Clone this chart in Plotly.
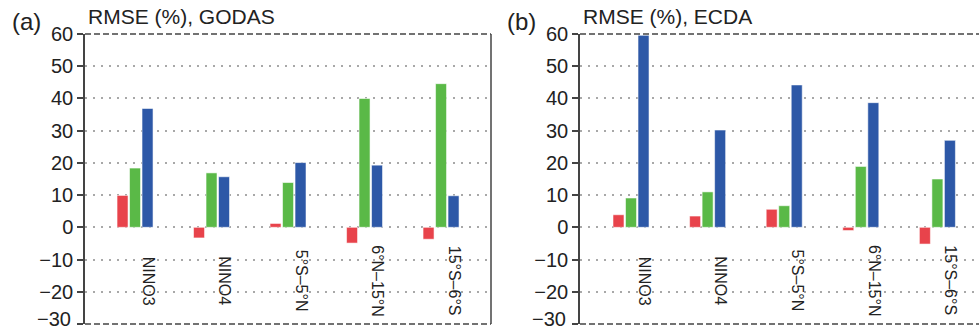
import plotly.graph_objects as go

# Regions and RMSE change (%) for each experiment, per reanalysis
regions = ["NINO3", "NINO4", "5°S–5°N", "6°N–15°N", "15°S–6°S"]

godas_red = [9.9, -3.3, 1.2, -4.9, -3.7]
godas_green = [18.4, 16.9, 13.9, 40.0, 44.6]
godas_blue = [36.9, 15.7, 20.1, 19.3, 9.8]

ecda_red = [3.9, 3.5, 5.6, -1.0, -5.2]
ecda_green = [9.1, 11.0, 6.7, 18.9, 15.0]
ecda_blue = [59.6, 30.2, 44.2, 38.7, 27.0]

y_ticks = [-30, -20, -10, 0, 10, 20, 30, 40, 50, 60]
y_min, y_max = -30, 60
panel_titles = ["RMSE (%), GODAS", "RMSE (%), ECDA"]
panel_tags = ["(a)", "(b)"]

RED, GREEN, BLUE = "#e8434b", "#5ab947", "#2d58a7"
AXIS = "#444444"
TXT = "#222222"
FONT = "Liberation Sans, Arial, Helvetica, sans-serif"


def tick_text(v):
    return ("\u2212" + str(-v)) if v < 0 else str(v)


W, H = 979, 331
xa_dom = [85 / W, 491 / W]
xb_dom = [580 / W, 1.0]

fig = go.Figure()

pos = list(range(len(regions)))
panels = [
    ("x", "y", godas_red, godas_green, godas_blue),
    ("x2", "y2", ecda_red, ecda_green, ecda_blue),
]
for xa, ya, r, g, b in panels:
    for vals, col in ((r, RED), (g, GREEN), (b, BLUE)):
        fig.add_trace(go.Bar(
            x=pos, y=vals, xaxis=xa, yaxis=ya,
            marker=dict(color=col, line=dict(color="rgba(255,255,255,0.55)", width=1)),
            showlegend=False,
        ))

# the lowest label sits on the figure's lower edge, so it is written separately
yaxis_common = dict(
    range=[y_min - 0.02, y_max + 0.02], tickvals=y_ticks,
    ticktext=["" if v == y_min else tick_text(v) for v in y_ticks],
    ticks="outside", ticklen=6, tickwidth=1.5, tickcolor=AXIS,
    showline=True, linecolor=AXIS, linewidth=1.5,
    showgrid=True, gridcolor="#a8a8a8", gridwidth=1.5, griddash="1.5px,6.5px",
    zeroline=False, tickfont=dict(size=20, color=TXT, family=FONT),
    fixedrange=True, automargin=False,
)
xaxis_common = dict(showticklabels=False, showgrid=False, zeroline=False,
                    ticks="", showline=False, fixedrange=True)

fig.update_layout(
    width=W, height=H,
    margin=dict(l=0, r=0, t=34, b=7),
    paper_bgcolor="white", plot_bgcolor="white",
    barmode="group", bargap=0.51, bargroupgap=0.12,
    xaxis=dict(domain=xa_dom, range=[-0.654, 4.653], anchor="y", **xaxis_common),
    xaxis2=dict(domain=xb_dom, range=[-0.666, 4.543], anchor="y2", **xaxis_common),
    yaxis=dict(domain=[0, 1], anchor="x", **yaxis_common),
    yaxis2=dict(domain=[0, 1], anchor="x2", **yaxis_common),
    font=dict(family=FONT, color=TXT),
)

shapes = []
for dom in (xa_dom, xb_dom):
    for yy in (1, 0):
        shapes.append(dict(type="line", xref="paper", yref="paper",
                           x0=dom[0], x1=dom[1], y0=yy, y1=yy,
                           line=dict(color=AXIS, width=1.5, dash="6px,3px")))
# solid right frame of the left panel
shapes.append(dict(type="line", xref="paper", yref="paper",
                   x0=xa_dom[1], x1=xa_dom[1], y0=0, y1=1,
                   line=dict(color=AXIS, width=1.5)))
fig.update_layout(shapes=shapes)

annotations = []
for i, (xr, yr) in enumerate((("x", "y"), ("x2", "y2"))):
    # vertical region names under the bars
    for k, name in enumerate(regions):
        annotations.append(dict(
            x=k + 0.17, y=-16.6, xref=xr, yref=yr, text=name, showarrow=False,
            textangle=90, xanchor="center", yanchor="middle",
            font=dict(size=16, color=TXT, family=FONT)))
    dom = xa_dom if i == 0 else xb_dom
    annotations.append(dict(
        x=dom[0] - 12 / W, y=y_min, xref="paper", yref=yr, yshift=5,
        text=tick_text(y_min), showarrow=False, xanchor="right", yanchor="middle",
        font=dict(size=20, color=TXT, family=FONT)))
    annotations.append(dict(
        x=dom[0] + 1 / W, y=1.0 + 4 / 290, xref="paper", yref="paper",
        text=panel_titles[i], showarrow=False, xanchor="left", yanchor="bottom",
        font=dict(size=21, color=TXT, family=FONT)))
    annotations.append(dict(
        x=dom[0] - 75 / W, y=1.0 - 3 / 290, xref="paper", yref="paper",
        text=panel_tags[i], showarrow=False, xanchor="left", yanchor="bottom",
        font=dict(size=24, color=TXT, family=FONT)))
fig.update_layout(annotations=annotations)

fig.write_html("out.html")
